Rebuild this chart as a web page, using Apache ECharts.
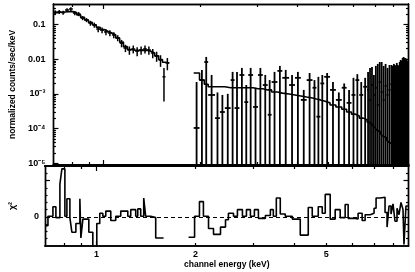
<!DOCTYPE html>
<html>
<head>
<meta charset="utf-8">
<script src="https://cdn.jsdelivr.net/npm/echarts@6/dist/echarts.min.js"></script>
<style>
  html, body { margin: 0; padding: 0; background: #fff; }
  #chart { width: 415px; height: 272px; }
</style>
</head>
<body>
<div id="chart"></div>
<script>
// ── spectrum data (keV, counts/sec/keV) ──────────────────
// soft group: bin edges, rate, 1-sigma error, folded model
const loEdges = [0.697, 0.7165, 0.7368, 0.7576, 0.7792, 0.8012, 0.824, 0.8474, 0.8715, 0.8962,
  0.9215, 0.9476, 0.9745, 1.002, 1.030, 1.060, 1.090, 1.121, 1.152, 1.185,
  1.219, 1.253, 1.289, 1.326, 1.363, 1.402, 1.441, 1.482, 1.524, 1.557, 1.600]
const loRate = [0.226, 0.232, 0.221, 0.262, 0.28, 0.214, 0.201, 0.154, 0.135, 0.110,
  0.097, 0.074, 0.069, 0.061, 0.057, 0.050, 0.041, 0.029, 0.021, 0.0184,
  0.0197, 0.0172, 0.0184, 0.0197, 0.0184, 0.0151, 0.0124, 0.0095, 0.0031, 0.0078]
const loErr = [0.03, 0.03, 0.03, 0.034, 0.036, 0.028, 0.027, 0.021, 0.018, 0.018,
  0.016, 0.014, 0.013, 0.012, 0.011, 0.010, 0.008, 0.007, 0.005, 0.005,
  0.005, 0.005, 0.005, 0.005, 0.005, 0.0045, 0.004, 0.0035, 0.0025, 0.003]
const loModel = [0.22, 0.225, 0.23, 0.235, 0.235, 0.22, 0.19, 0.16, 0.135, 0.115,
  0.098, 0.083, 0.072, 0.064, 0.057, 0.05, 0.041, 0.031, 0.023, 0.019,
  0.018, 0.018, 0.018, 0.018, 0.017, 0.015, 0.0125, 0.0098, 0.0082, 0.0078]

// hard group: lower error bars all run down to zero
const hiEdges = [1.906, 1.988, 2.057, 2.115, 2.222, 2.301, 2.384, 2.485, 2.556, 2.647,
  2.741, 2.819, 2.919, 3.023, 3.130, 3.242, 3.334, 3.476, 3.600, 3.780,
  3.942, 4.111, 4.287, 4.471, 4.598, 4.729, 4.863, 5.070, 5.287, 5.514,
  5.710, 5.913, 6.082, 6.252, 6.432, 6.613, 6.706, 6.801, 6.896, 6.992,
  7.091, 7.190, 7.292, 7.394, 7.499, 7.605, 7.711, 7.820, 7.930, 7.985,
  8.041, 8.097, 8.154, 8.212, 8.270, 8.327, 8.385, 8.444, 8.503, 8.563,
  8.623, 8.683, 8.743, 8.805, 8.867]
const hiRate = [1.04e-4, 0.0025, 0.0083, 0.00093, 0.0002, 0.0003, 0.00039, 0.0025, 0.00039, 0.0035,
  0.00058, 0.0035, 0.00042, 0.0035, 0.0018, 0.00025, 0.0022, 0.0046, 0.0029, 0.0018,
  0.0029, 0.00067, 0.0025, 0.0015, 0.00022, 0.002, 0.0031, 0.0013, 0.00067, 0.0015,
  0.00055, 0.00093, 0.0025, 0.00093, 0.0016, 0.0013, 0.00067, 0.0018, 0.00093, 0.0015,
  0.00048, 0.0022, 0.00113, 0.00067, 0.0017, 0.00093, 0.0013, 0.0019, 0.00113, 0.0018,
  0.00076, 0.0015, 0.0025, 0.00093, 0.0017, 0.0013, 0.0019, 0.00087, 0.0015, 0.0021,
  0.00113, 0.0017, 0.00093, 0.0015]
const hiUpper = [0.0022, 0.0049, 0.0116, 0.0035, 0.0011, 0.00093, 0.001, 0.0043, 0.0043, 0.0056,
  0.0018, 0.0056, 0.0015, 0.0056, 0.0035, 0.0025, 0.0043, 0.0064, 0.0049, 0.0035,
  0.0043, 0.0013, 0.004, 0.0025, 0.0031, 0.0035, 0.004, 0.0022, 0.0011, 0.002,
  0.0013, 0.0029, 0.0037, 0.0022, 0.0029, 0.0043, 0.0056, 0.006, 0.0035, 0.0064,
  0.0073, 0.0083, 0.0083, 0.0064, 0.0073, 0.0056, 0.0068, 0.0068, 0.0064, 0.0073,
  0.0068, 0.0064, 0.0078, 0.0068, 0.0064, 0.0083, 0.0095, 0.0089, 0.0108, 0.0116,
  0.0108, 0.0108, 0.0095, 0.0089]
const hiModel = [0.0040, 0.0025, 0.0019, 0.0016, 0.0016, 0.0016, 0.0015, 0.0015, 0.0015, 0.0015,
  0.0015, 0.0015, 0.0014, 0.0014, 0.0013, 0.0013, 0.00113, 0.00105, 0.00099, 0.00093,
  0.00087, 0.00081, 0.00076, 0.00071, 0.00067, 0.00062, 0.00055, 0.00048, 0.00042, 0.00036,
  0.0003, 0.00026, 0.00023, 0.0002, 0.00018, 0.000155, 0.000145, 0.000136, 0.000119, 0.000104,
  0.000091, 0.00008, 0.00007, 0.000061, 0.000054, 0.000047, 0.000041, 0.000036, 3.37e-5, 3.15e-5,
  2.95e-5, 2.76e-5, 2.58e-5, 2.41e-5, 2.26e-5, 2.12e-5, 1.98e-5, 1.85e-5, 1.73e-5, 1.62e-5,
  1.52e-5, 1.42e-5, 1.33e-5, 1.24e-5]

// residuals (chi)
const resLoEdges = [0.697, 0.7116, 0.7368, 0.7523, 0.7737, 0.7846, 0.8012, 0.8126, 0.8298, 0.8414,
  0.8654, 0.8899, 0.8962, 0.9088, 0.9476, 0.9745, 1.002, 1.023, 1.045, 1.067,
  1.105, 1.144, 1.185, 1.245, 1.271, 1.316, 1.335, 1.363, 1.392, 1.411,
  1.462, 1.514, 1.600]
const resLo = [-1.2, 0.1, 1.4, -0.1, 4.5, 6.6, 0.1, 2.5, -0.1, -2.1,
  -0.9, 2.5, -2.9, -0.3, -2.1, -4.5, -0.9, 0.5, 0.1, 0.8,
  -0.5, 0.1, 0.8, 0.1, 1.0, 0.1, 1.1, 0.1, 2.6, 0.1,
  -0.1, -2.9]
const resHiEdges = [1.906, 1.988, 2.057, 2.115, 2.192, 2.270, 2.384, 2.469, 2.520, 2.611,
  2.684, 2.780, 2.859, 2.940, 3.023, 3.109, 3.265, 3.381, 3.452, 3.525,
  3.624, 3.753, 3.942, 4.169, 4.409, 4.534, 4.729, 4.863, 4.966, 5.142,
  5.324, 5.514, 5.710, 5.831, 6.124, 6.252, 6.432, 6.568, 6.801, 6.992,
  7.091, 7.292, 7.551, 7.658, 7.765, 7.875, 7.985, 8.097, 8.212, 8.327,
  8.444, 8.563, 8.623, 8.743, 8.867]
const resHi = [-2.8, 0.1, 2.1, 0.1, -1.6, -2.4, -1.4, -0.4, 0.5, 0.1,
  1.0, 0.1, 1.0, 0.1, 1.0, -0.2, 0.2, 1.0, 0.1, 2.6,
  0.4, 0.1, -0.3, -2.5, 1.3, 0.1, 1.4, 0.5, 3.1, -0.3,
  1.0, -0.1, 1.7, -0.2, -0.3, 0.5, -0.5, 0.3, 0.5, 1.2,
  2.6, 2.7, 0.6, -1.4, 1.5, 0.4, 1.8, -0.6, 1.2, 0.3,
  2.0, 1.0, -3.8, 1.5]

// tick labels
const xTickVals  = [1, 2, 5]
const xTickText  = ['1', '2', '5']
const yTickVals  = [0.1, 0.01, 1e-3, 1e-4, 1e-5]
const yTickText  = ['0.1', '0.01', '10⁻³', '10⁻⁴', '10⁻⁵']
const resTickVals = [0, 5]
const resTickText = ['0', '5']

// ── scales ───────────────────────────────────────────────
const L = Math.log10
const X_MIN = 0.697, X_MAX = 8.9
const Y_MIN = 8.9e-6, Y_MAX = 0.39
const R_MIN = -4, R_MAX = 7

const xMajor = [1]
const xMinor = [0.8, 0.9, 2, 3, 4, 5, 6, 7, 8]
const yMajor = yTickVals
const yMinor = []
for (let d = -6; d <= -1; d++) {
  for (let m = 2; m <= 9; m++) {
    const v = m * Math.pow(10, d)
    if (v > Y_MIN && v < Y_MAX) yMinor.push(v)
  }
}
const rMajor = [0, 5]
const rMinor = [-3, -2, -1, 1, 2, 3, 4, 6]

const FONT = { fontFamily: 'Liberation Sans', fontWeight: 'bold', fontSize: 9, color: '#000' }

function axis(grid, pos, min, max, ticks, len, lineW, extra) {
  return Object.assign({
    type: 'value', gridIndex: grid, position: pos, min, max,
    axisLine:  { show: true, onZero: false, lineStyle: { color: '#000', width: lineW } },
    axisTick:  { show: true, inside: true, length: len, customValues: ticks,
                 lineStyle: { color: '#000', width: 1.2 } },
    axisLabel: { show: false },
    splitLine: { show: false },
  }, extra)
}

function labelFor(vals, text) {
  return v => {
    const i = vals.findIndex(t => Math.abs((t > 0 ? L(t) : t) - v) < 1e-6)
    return i < 0 ? '' : text[i]
  }
}

const xmin = L(X_MIN), xmax = L(X_MAX)
const ymin = L(Y_MIN), ymax = L(Y_MAX)

const xAxes = [
  axis(0, 'bottom', xmin, xmax, xMajor.map(L), 5, 2),
  axis(0, 'top',    xmin, xmax, xMajor.map(L), 5, 1.4),
  axis(0, 'bottom', xmin, xmax, xMinor.map(L), 3, 2),
  axis(0, 'top',    xmin, xmax, xMinor.map(L), 3, 1.4),
  axis(1, 'bottom', xmin, xmax, xMajor.map(L), 5, 1.6, {
    axisLabel: Object.assign({ show: true, margin: 4, customValues: xTickVals.map(L),
      formatter: labelFor(xTickVals, xTickText) }, FONT),
    name: 'channel energy (keV)', nameLocation: 'middle', nameGap: 14,
    nameTextStyle: Object.assign({}, FONT, { fontSize: 8.5 }),
  }),
  axis(1, 'top',    xmin, xmax, xMajor.map(L), 5, 2),
  axis(1, 'bottom', xmin, xmax, xMinor.map(L), 3, 1.6),
  axis(1, 'top',    xmin, xmax, xMinor.map(L), 3, 2),
]

const yAxes = [
  axis(0, 'left',  ymin, ymax, yMajor.map(L), 5, 1.4, {
    axisLabel: Object.assign({ show: true, margin: 8, customValues: yTickVals.map(L),
      formatter: labelFor(yTickVals, yTickText) }, FONT),
    name: 'normalized counts/sec/keV', nameLocation: 'middle', nameGap: 31,
    nameTextStyle: Object.assign({}, FONT, { fontSize: 8.5 }),
  }),
  axis(0, 'right', ymin, ymax, yMajor.map(L), 5, 1.4),
  axis(0, 'left',  ymin, ymax, yMinor.map(L), 2.5, 1.4),
  axis(0, 'right', ymin, ymax, yMinor.map(L), 2.5, 1.4),
  axis(1, 'left',  R_MIN, R_MAX, rMajor, 5, 1.4, {
    axisLabel: Object.assign({ show: true, margin: 6, customValues: resTickVals,
      formatter: labelFor(resTickVals, resTickText) }, FONT),
    name: 'χ²', nameLocation: 'middle', nameGap: 28,
    nameTextStyle: Object.assign({}, FONT, { fontSize: 9 }),
  }),
  axis(1, 'right', R_MIN, R_MAX, rMajor, 5, 1.4),
  axis(1, 'left',  R_MIN, R_MAX, rMinor, 2.5, 1.4),
  axis(1, 'right', R_MIN, R_MAX, rMinor, 2.5, 1.4),
]

// ── series builders ──────────────────────────────────────
function crosses(edges, rate, up, down) {
  return rate.map((r, i) => [L(edges[i]), L(edges[i + 1]), L(r), L(up[i]),
    Math.max(ymin, down[i] > 0 ? L(down[i]) : ymin)])
}
function steps(edges, vals, tx) {
  const pts = vals.map((v, i) => [L(edges[i]), tx(v)])
  pts.push([L(edges[edges.length - 1]), tx(vals[vals.length - 1])])
  return pts
}

const crossRenderer = lw => (params, api) => {
  const a = api.coord([api.value(0), api.value(2)])
  const b = api.coord([api.value(1), api.value(2)])
  const xm = (api.value(0) + api.value(1)) / 2
  const t = api.coord([xm, api.value(3)])
  const d = api.coord([xm, api.value(4)])
  const style = { stroke: '#000', lineWidth: lw }
  return {
    type: 'group',
    children: [
      { type: 'line', shape: { x1: a[0], y1: a[1], x2: b[0], y2: b[1] }, style },
      { type: 'line', shape: { x1: t[0], y1: t[1], x2: d[0], y2: d[1] }, style },
    ],
  }
}

const loData = crosses(loEdges, loRate,
  loRate.map((r, i) => r + loErr[i]), loRate.map((r, i) => r - loErr[i]))
const hiData = crosses(hiEdges, hiRate, hiUpper, hiRate.map(() => 0))

const stepLine = (data, xi, yi, extra) => Object.assign({
  type: 'line', xAxisIndex: xi, yAxisIndex: yi, data, step: 'end',
  showSymbol: false, silent: true, clip: true,
  lineStyle: { color: '#000', width: 1.6 },
}, extra)

const option = {
  animation: false,
  backgroundColor: '#fff',
  textStyle: { fontFamily: 'Liberation Sans' },
  grid: [
    { left: 44, top: 4, width: 364.5, height: 161 },
    { left: 44, top: 166, width: 364.5, height: 80 },
  ],
  xAxis: xAxes,
  yAxis: yAxes,
  series: [
    { type: 'custom', xAxisIndex: 0, yAxisIndex: 0, data: loData, renderItem: crossRenderer(1.5),
      clip: true, silent: true, encode: { x: [0, 1], y: [2, 3, 4] } },
    { type: 'custom', xAxisIndex: 0, yAxisIndex: 0, data: hiData, renderItem: crossRenderer(1.8),
      clip: true, silent: true, encode: { x: [0, 1], y: [2, 3, 4] } },
    stepLine(steps(loEdges, loModel, L), 0, 0),
    stepLine(steps(hiEdges, hiModel, L), 0, 0),
    stepLine(steps(resLoEdges, resLo, v => v), 4, 4, {
      markLine: {
        silent: true, symbol: 'none', label: { show: false },
        lineStyle: { color: '#000', type: [4, 3], width: 1.2 },
        data: [{ yAxis: 0 }],
      },
    }),
    stepLine(steps(resHiEdges, resHi, v => v), 4, 4),
  ],
}

const chart = echarts.init(document.getElementById('chart'), null, { renderer: 'canvas' })
chart.setOption(option)
</script>
</body>
</html>
